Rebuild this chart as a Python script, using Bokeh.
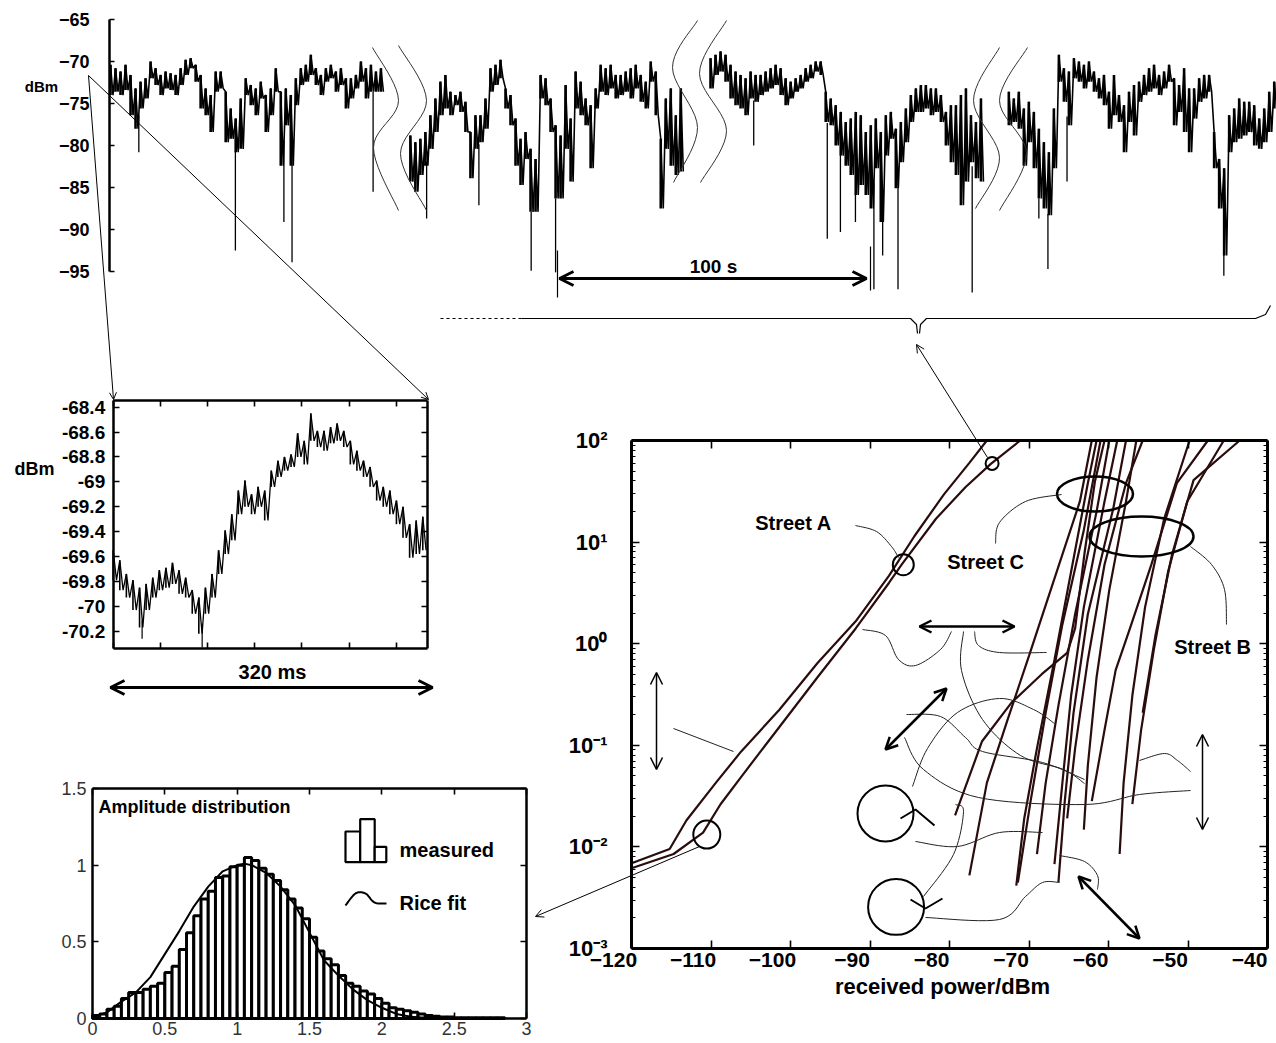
import numpy as np
from bokeh.plotting import figure
from bokeh.models import (Range1d, LinearAxis, LogAxis, LogScale, FixedTicker,
                          Arrow, OpenHead, Label)
from bokeh.core.properties import value
from bokeh.embed import file_html
from bokeh.resources import INLINE

FONT = "Liberation Sans"
CDF_COLOR = "#2a0c0c"

# ---------------- DATA ----------------
# Top panel: received level (dBm), upper / lower envelope of the fast-fading trace,
# one value every 1.6 s, four recorded segments (start time in s)
SEG_START = [0.0, 95.8, 191.7, 287.0]
SEG_STEP = 1.6
SEG1_HI = [-70.4,-70.8,-71.2,-70.4,-71.6,-73.2,-72.4,-72.0,-70.0,-70.8,-71.6,-71.2,-71.4,-71.6,-70.8,-69.8,-69.6,-70.4,-71.6,-73.2,-74.0,-71.2,-71.2,-73.6,-75.6,-76.8,-74.4,-72.0,-72.8,-73.2,-72.4,-74.0,-73.2,-70.8,-73.6,-73.2,-74.0,-72.0,-70.8,-70.4,-69.2,-70.8,-71.6,-70.8,-70.4,-71.2,-70.8,-72.0,-72.0,-71.6,-70.0,-70.8,-70.4,-71.2,-70.8]
SEG1_LO = [-74.0,-73.6,-74.0,-73.4,-76.4,-78.0,-75.6,-74.4,-72.0,-72.8,-74.0,-73.2,-73.4,-74.0,-72.8,-71.6,-70.8,-72.4,-75.6,-76.4,-78.4,-73.6,-73.2,-79.6,-79.2,-80.8,-80.4,-74.0,-75.2,-76.4,-74.4,-78.4,-76.4,-73.6,-82.4,-77.6,-82.4,-75.2,-72.8,-72.4,-71.6,-72.8,-74.0,-72.4,-72.0,-73.6,-72.8,-75.6,-74.4,-73.2,-72.4,-74.4,-73.6,-73.6,-73.6]
SEG2_HI = [-78.8,-79.6,-79.2,-78.4,-76.4,-74.4,-72.4,-71.6,-73.6,-74.0,-73.6,-74.8,-78.4,-76.4,-76.4,-74.4,-70.8,-70.4,-69.8,-73.2,-74.0,-76.8,-79.2,-78.4,-80.4,-81.6,-71.6,-72.0,-74.4,-77.6,-78.8,-72.8,-76.8,-71.2,-72.4,-74.4,-75.2,-73.2,-70.4,-70.8,-70.4,-71.6,-71.6,-71.2,-70.8,-70.4,-71.6,-72.4,-70.0,-71.2,-79.2,-74.4,-73.2,-76.4,-73.2]
SEG2_LO = [-84.3,-85.5,-83.5,-82.4,-80.4,-78.4,-76.4,-75.6,-76.4,-75.2,-76.0,-78.4,-83.9,-80.4,-79.6,-78.0,-73.6,-72.8,-72.0,-75.6,-77.6,-82.4,-84.7,-81.6,-87.9,-87.9,-74.4,-75.2,-78.4,-86.3,-86.3,-80.4,-84.3,-75.6,-76.4,-77.6,-82.7,-75.6,-73.6,-74.0,-73.2,-74.4,-74.0,-73.6,-74.4,-73.2,-74.8,-75.6,-72.4,-76.4,-87.5,-80.4,-82.4,-83.5,-83.1]
SEG3_HI = [-69.6,-69.2,-68.8,-69.2,-70.4,-71.2,-71.6,-72.0,-71.2,-71.6,-71.6,-71.2,-70.8,-70.4,-70.8,-72.0,-72.4,-72.0,-71.6,-70.8,-70.4,-70.0,-70.0,-73.6,-74.4,-75.2,-76.0,-77.2,-76.8,-76.0,-76.4,-78.4,-77.6,-76.8,-78.4,-76.4,-76.0,-78.0,-77.2,-75.6,-74.0,-73.2,-72.8,-72.8,-73.2,-73.2,-74.0,-76.0,-75.2,-75.2,-74.0,-73.2,-76.4,-77.2,-74.4]
SEG3_LO = [-73.2,-71.6,-71.2,-72.4,-74.4,-75.2,-75.6,-76.4,-74.4,-74.8,-74.0,-73.6,-73.2,-72.8,-74.0,-75.2,-74.4,-73.6,-73.2,-72.4,-72.0,-71.2,-71.6,-77.2,-77.6,-80.0,-81.2,-82.4,-83.5,-85.9,-84.7,-85.9,-87.5,-82.7,-89.1,-81.2,-79.2,-85.1,-82.0,-79.6,-77.2,-76.0,-76.0,-75.6,-76.4,-76.0,-77.2,-80.0,-82.0,-83.5,-87.1,-84.3,-82.0,-83.9,-84.3]
SEG4_HI = [-73.6,-74.4,-73.6,-75.6,-74.8,-76.0,-78.0,-79.6,-80.8,-75.6,-69.2,-70.8,-71.2,-69.6,-70.0,-70.4,-70.0,-71.2,-72.0,-71.6,-73.6,-71.6,-74.0,-75.2,-73.6,-72.8,-72.4,-71.6,-70.8,-70.4,-71.6,-71.2,-70.4,-72.0,-72.8,-70.8,-73.2,-73.2,-72.0,-71.6,-71.6,-78.4,-81.6,-82.7,-76.4,-75.6,-74.4,-74.8,-74.8,-75.2,-76.8,-75.6,-73.6,-72.4]
SEG4_LO = [-77.6,-77.2,-78.0,-82.4,-79.6,-82.7,-86.3,-87.5,-88.3,-82.7,-72.4,-74.8,-77.6,-72.0,-72.4,-73.2,-72.4,-73.6,-74.4,-75.2,-78.0,-76.4,-77.2,-80.8,-77.2,-78.8,-74.8,-74.0,-73.6,-73.2,-74.0,-73.2,-72.4,-77.6,-76.0,-78.4,-80.8,-76.8,-74.8,-74.4,-73.6,-82.7,-87.5,-93.1,-80.8,-79.6,-79.2,-78.8,-78.4,-80.0,-80.4,-79.6,-78.4,-75.6]
# deep fades (time s, level dBm)
FADE_T = [9.05, 39.9, 55.4, 58.0, 83.9, 101.0, 117.7, 134.4, 142.2, 205.5, 229.0, 233.2, 238.0, 243.9, 246.7, 251.6, 275.3, 296.6, 299.5, 305.6, 355.7]
FADE_DB = [-80.8, -92.5, -89.1, -93.9, -85.5, -88.7, -87.1, -94.9, -95.1, -80.0, -91.1, -90.3, -89.1, -97.1, -93.1, -97.1, -97.5, -88.7, -94.7, -84.3, -95.5]
TOP_YTICKS = [-65, -70, -75, -80, -85, -90, -95]

# Inset: 320 ms zoom, envelope every 6.7 ms
INSET_STEP = 6.7
INSET_HI = [-69.55,-69.63,-69.74,-69.79,-69.85,-69.82,-69.77,-69.71,-69.69,-69.65,-69.71,-69.77,-69.87,-69.93,-69.85,-69.74,-69.55,-69.39,-69.26,-69.07,-68.99,-69.10,-69.04,-69.07,-68.91,-68.83,-68.80,-68.78,-68.61,-68.67,-68.45,-68.59,-68.59,-68.56,-68.53,-68.59,-68.67,-68.75,-68.83,-68.88,-68.99,-69.04,-69.07,-69.15,-69.20,-69.34,-69.31,-69.28]
INSET_LO = [-69.79,-69.87,-69.93,-70.03,-70.17,-70.03,-69.93,-69.87,-69.85,-69.82,-69.90,-69.93,-70.06,-70.22,-70.06,-69.93,-69.74,-69.58,-69.47,-69.26,-69.20,-69.26,-69.20,-69.31,-69.04,-68.96,-68.91,-68.88,-68.80,-68.86,-68.67,-68.72,-68.75,-68.69,-68.67,-68.72,-68.86,-68.91,-68.96,-69.04,-69.15,-69.20,-69.26,-69.34,-69.45,-69.61,-69.58,-69.55]
INSET_FADE_T = [29.4, 90.5]
INSET_FADE_DB = [-70.26, -70.33]
INSET_YTICKS = [-68.4, -68.6, -68.8, -69.0, -69.2, -69.4, -69.6, -69.8, -70.0, -70.2]
INSET_YLABELS = ["-68.4", "-68.6", "-68.8", "-69", "-69.2", "-69.4", "-69.6", "-69.8", "-70", "-70.2"]
INSET_XTICKS = [0, 48, 96, 144, 192, 240, 288]
INSET_XLIM = (0, 320)
INSET_YLIM = (-70.34, -68.35)

# Amplitude distribution (bins of 0.05 starting at 0)
HIST_BIN = 0.05
HIST_H = [0.02,0.03,0.06,0.08,0.13,0.17,0.17,0.19,0.21,0.23,
          0.30,0.34,0.45,0.56,0.67,0.78,0.83,0.92,0.93,0.99,
          1.00,1.05,1.03,0.98,0.94,0.90,0.84,0.78,0.72,0.65,
          0.53,0.44,0.39,0.35,0.28,0.23,0.21,0.18,0.16,0.13,
          0.10,0.07,0.06,0.05,0.04,0.03,0.02,0.015,0.01,0.01,
          0.005,0.005,0.005,0.005,0.005,0.005,0.005]
RICE_X = [0.0,0.1,0.2,0.3,0.4,0.5,0.6,0.7,0.8,0.9,1.0,1.05,1.1,1.2,1.3,1.4,1.5,1.6,1.7,1.8,1.9,2.0,2.1,2.2,2.3,2.4,2.5,2.8]
RICE_Y = [0.01,0.04,0.11,0.17,0.27,0.42,0.57,0.73,0.86,0.96,1.0,1.01,1.0,0.95,0.86,0.74,0.56,0.38,0.28,0.19,0.12,0.07,0.03,0.012,0.005,0.002,0.0,0.0]
HIST_XTICKS = [0, 0.5, 1, 1.5, 2, 2.5, 3]
HIST_YTICKS = [0, 0.5, 1, 1.5]

# CDF panel: received power (dBm) vs log10(probability %)
A_CURVES = [
    ([-120.0,-115.2,-113.1,-109.4,-106.2,-101.4,-96.6,-91.8,-87.6,-84.4,-80.7,-77.5,-75.3],
     [-2.16,-2.02,-1.74,-1.37,-1.06,-0.65,-0.19,0.22,0.67,1.06,1.47,1.78,2.0]),
    ([-120.0,-114.7,-111.0,-108.8,-106.2,-101.4,-96.6,-91.8,-87.6,-86.0,-81.7,-78.0,-74.8,-71.1],
     [-2.21,-2.07,-1.86,-1.58,-1.31,-0.82,-0.33,0.15,0.60,0.78,1.23,1.54,1.77,2.0]),
]
C_CURVES = [
    ([-79.3,-75.9,-72.2,-68.4,-65.2,-64.2,-63.0,-61.7,-60.5], [-1.69,-0.96,-0.58,-0.30,-0.09,0.15,0.9,1.6,2.0]),
    ([-77.5,-75.3,-72.7,-70.0,-66.8,-63.6,-62.1], [-2.28,-1.37,-0.75,-0.12,0.64,1.40,2.0]),
    ([-71.6,-70.6,-69.0,-66.8,-64.7,-62.6,-61.5], [-2.38,-1.72,-1.03,-0.16,0.71,1.58,2.0]),
    ([-71.4,-69.8,-67.9,-65.8,-63.1,-61.0], [-2.35,-1.55,-0.68,0.19,1.12,2.0]),
    ([-69.0,-67.9,-66.3,-64.2,-61.5,-59.9], [-2.07,-1.37,-0.61,0.29,1.30,2.0]),
    ([-66.8,-65.8,-64.7,-63.1,-60.5,-58.9], [-2.17,-1.37,-0.51,0.36,1.40,2.0]),
    ([-66.3,-65.5,-64.4,-62.6,-59.4,-57.8], [-2.35,-1.55,-0.68,0.29,1.33,2.0]),
    ([-63.1,-62.6,-61.5,-59.9,-57.8,-56.5], [-1.83,-1.20,-0.33,0.53,1.40,2.0]),
    ([-65.2,-64.2,-62.6,-60.5,-57.8,-55.7], [-1.72,-1.03,-0.16,0.78,1.58,2.0]),
]
B_CURVES = [
    ([-58.6,-58.1,-57.0,-55.4,-53.0,-49.8], [-2.07,-1.37,-0.51,0.36,1.23,2.0]),
    ([-62.1,-60.5,-59.1,-57.3,-54.6,-51.4,-47.5], [-1.55,-0.85,-0.26,0.15,0.78,1.58,2.0]),
    ([-57.0,-55.9,-54.3,-52.5,-50.1,-45.5], [-1.58,-0.85,-0.06,0.71,1.40,2.0]),
    ([-55.7,-54.1,-52.0,-49.3,-43.5], [-0.68,0.08,0.88,1.61,2.0]),
]
CDF_XTICKS = [-120, -110, -100, -90, -80, -70, -60, -50, -40]
CDF_YTICKS = [1e-3, 1e-2, 1e-1, 1.0, 10.0, 100.0]
CDF_YLABELS = ["10\u207b\u00b3", "10\u207b\u00b2", "10\u207b\u00b9", "10\u2070", "10\u00b9", "10\u00b2"]
CDF_YMINOR = [k * 10.0 ** e for e in range(-3, 2) for k in range(2, 10)]

# ---------------- LAYOUT (reference pixel geometry) ----------------
W, H = 1276, 1043
PX0, PX1 = 0, 1276
PY_BOT, PY_TOP = 1043, 0


def lin_range(v0, p0, v1, p1, a, b):
    k = (v1 - v0) / (p1 - p0)
    return Range1d(start=v0 + (a - p0) * k, end=v0 + (b - p0) * k)


def log_range(v0, p0, v1, p1, a, b):
    l0, l1 = np.log10(v0), np.log10(v1)
    k = (l1 - l0) / (p1 - p0)
    return Range1d(start=10 ** (l0 + (a - p0) * k), end=10 ** (l0 + (b - p0) * k))


p = figure(width=W, height=H, x_range=Range1d(PX0, PX1), y_range=Range1d(PY_BOT, PY_TOP),
           x_axis_type=None, y_axis_type=None, toolbar_location=None, output_backend="svg",
           min_border=0, outline_line_color=None, background_fill_color="white",
           border_fill_color="white")
p.title.visible = False

CDF_X0, CDF_X1, CDF_Y0, CDF_Y1 = 631, 1267, 948, 440
p.extra_x_ranges = {
    "tx": lin_range(0, 110, 100, 423, PX0, PX1),
    "ix": lin_range(0, 112.7, 320, 427.3, PX0, PX1),
    "hx": lin_range(0, 92, 3, 526, PX0, PX1),
    "cx": lin_range(-120, CDF_X0, -40, CDF_X1, PX0, PX1),
    "cxl": lin_range(-120, CDF_X0 - 18, -40, CDF_X1 - 18, PX0, PX1),
}
p.extra_y_ranges = {
    "ty": lin_range(-65, 19, -95, 271, PY_BOT, PY_TOP),
    "iy": lin_range(-68.4, 406.7, -70.2, 630.7, PY_BOT, PY_TOP),
    "hy": lin_range(0, 1018, 1.5, 788, PY_BOT, PY_TOP),
    "cy": log_range(1e-3, CDF_Y0, 100.0, CDF_Y1, PY_BOT, PY_TOP),
}
p.extra_y_scales = {"cy": LogScale()}


def add_axis(side, xr, yr, loc, ticks, bounds, minor=(), labels=True, overrides=None,
             size="17px", bold=True, color="black", standoff=4, tick_in=6, minor_in=0,
             lw=2.5, log=False, line=True, ticks_on=True):
    cls = LogAxis if log else LinearAxis
    ax = cls(x_range_name=xr, y_range_name=yr, fixed_location=loc,
             ticker=FixedTicker(ticks=list(ticks), minor_ticks=list(minor)),
             bounds=bounds,
             major_tick_in=tick_in if ticks_on else 0, major_tick_out=0,
             minor_tick_in=minor_in if ticks_on else 0, minor_tick_out=0,
             major_tick_line_width=1.6, minor_tick_line_width=1.2,
             major_tick_line_color="black" if ticks_on else None,
             minor_tick_line_color="black" if ticks_on else None,
             axis_line_width=lw, axis_line_color="black" if line else None,
             major_label_standoff=standoff,
             major_label_text_font=FONT, major_label_text_font_size=size,
             major_label_text_font_style="bold" if bold else "normal",
             major_label_text_color=color if labels else None)
    if overrides:
        ax.major_label_overrides = overrides
    p.add_layout(ax, side)
    return ax


# ---------------- TOP TRACE ----------------
def zigzag(t0, step, hi, lo):
    xs, ys = [], []
    for i, (h, l) in enumerate(zip(hi, lo)):
        t = t0 + i * step
        xs += [t, t + step / 2.0]
        ys += [h, l]
    return xs, ys


segs = [(SEG1_HI, SEG1_LO), (SEG2_HI, SEG2_LO), (SEG3_HI, SEG3_LO), (SEG4_HI, SEG4_LO)]
seg_times = []
for t0, (hi, lo) in zip(SEG_START, segs):
    xs, ys = zigzag(t0, SEG_STEP, hi, lo)
    ts = [t0 + SEG_STEP * i for i in range(len(lo))]
    # dense band: a vertical stroke per sample plus the zig-zag between envelope values
    p.segment(x0=ts, y0=hi, x1=ts, y1=lo, x_range_name="tx", y_range_name="ty",
              line_color="black", line_width=2.6)
    p.line(xs, ys, x_range_name="tx", y_range_name="ty", line_color="black", line_width=1.6)
    seg_times.append((t0, ts[-1], ts, lo))

f_base = []
for t in FADE_T:
    base = -73.0
    for (a, b, ts, lo) in seg_times:
        if a <= t <= b + SEG_STEP:
            base = float(np.interp(t, ts, lo))
    f_base.append(base)
p.segment(x0=FADE_T, y0=f_base, x1=FADE_T, y1=FADE_DB, x_range_name="tx", y_range_name="ty",
          line_color="black", line_width=1.3)

add_axis("left", "tx", "ty", (109 - 110) / 3.13, TOP_YTICKS, (-95, -65), size="18px",
         standoff=20, tick_in=5, lw=2.5)

# ---------------- INSET ----------------
its = [i * INSET_STEP for i in range(len(INSET_LO))]
xs, ys = zigzag(0.0, INSET_STEP, INSET_HI, INSET_LO)
p.segment(x0=its, y0=INSET_HI, x1=its, y1=INSET_LO, x_range_name="ix", y_range_name="iy",
          line_color="black", line_width=1.6)
p.line(xs, ys, x_range_name="ix", y_range_name="iy", line_color="black", line_width=1.3)
ib = [float(np.interp(t, its, INSET_LO)) for t in INSET_FADE_T]
p.segment(x0=INSET_FADE_T, y0=ib, x1=INSET_FADE_T, y1=INSET_FADE_DB, x_range_name="ix",
          y_range_name="iy", line_color="black", line_width=1.2)

inset_over = {t: s for t, s in zip(INSET_YTICKS, INSET_YLABELS)}
add_axis("left", "ix", "iy", INSET_XLIM[0], INSET_YTICKS, INSET_YLIM, overrides=inset_over,
         size="19px", standoff=8, tick_in=6)
add_axis("right", "ix", "iy", INSET_XLIM[1], INSET_YTICKS, INSET_YLIM, labels=False, tick_in=6)
add_axis("below", "ix", "iy", INSET_YLIM[0], INSET_XTICKS, INSET_XLIM, labels=False, tick_in=6)
add_axis("above", "ix", "iy", INSET_YLIM[1], INSET_XTICKS, INSET_XLIM, labels=False, tick_in=6)

# ---------------- HISTOGRAM ----------------
left = [i * HIST_BIN for i in range(len(HIST_H))]
right = [(i + 1) * HIST_BIN for i in range(len(HIST_H))]
p.quad(left=left, right=right, bottom=0, top=HIST_H, x_range_name="hx", y_range_name="hy",
       fill_color="white", line_color="black", line_width=3)
p.line(RICE_X, RICE_Y, x_range_name="hx", y_range_name="hy", line_color="black", line_width=2)

add_axis("left", "hx", "hy", 0, HIST_YTICKS, (0, 1.5), size="18px", bold=False, color="#333333",
         standoff=6, tick_in=6, lw=2.5)
add_axis("right", "hx", "hy", 3, HIST_YTICKS, (0, 1.5), labels=False, tick_in=6, lw=2.5)
add_axis("below", "hx", "hy", 0, HIST_XTICKS, (0, 3), size="18px", bold=False, color="#333333",
         standoff=3, tick_in=6, lw=2.5)
add_axis("above", "hx", "hy", 1.5, HIST_XTICKS, (0, 3), labels=False, tick_in=6, lw=2.5)

# ---------------- CDF ----------------
for db, lg in A_CURVES + C_CURVES + B_CURVES:
    p.line(db, [10.0 ** v for v in lg], x_range_name="cx", y_range_name="cy",
           line_color=CDF_COLOR, line_width=2.2)

cdf_over = {t: s for t, s in zip(CDF_YTICKS, CDF_YLABELS)}
add_axis("left", "cx", "cy", -120, CDF_YTICKS, (1e-3, 100.0), minor=CDF_YMINOR, overrides=cdf_over,
         size="22px", standoff=24, tick_in=8, minor_in=4, lw=3, log=True)
add_axis("right", "cx", "cy", -40, CDF_YTICKS, (1e-3, 100.0), minor=CDF_YMINOR, labels=False,
         tick_in=8, minor_in=4, lw=3, log=True)
add_axis("below", "cx", "cy", 1e-3, CDF_XTICKS, (-120, -40), labels=False, tick_in=8, lw=3)
add_axis("below", "cxl", "cy", 1e-3, CDF_XTICKS, (-120, -40), size="21px", standoff=4,
         line=False, ticks_on=False)
add_axis("above", "cx", "cy", 100.0, CDF_XTICKS, (-120, -40), labels=False, tick_in=8, lw=3)

# ---------------- ANNOTATIONS (reference pixel coordinates) ----------------
def smooth(pts, n=10):
    P = np.array(pts, float)
    P = np.vstack([P[0], P, P[-1]])
    out = []
    for i in range(1, len(P) - 2):
        p0, p1, p2, p3 = P[i - 1], P[i], P[i + 1], P[i + 2]
        for s in np.linspace(0, 1, n, endpoint=False):
            out.append(0.5 * ((2 * p1) + (-p0 + p2) * s + (2 * p0 - 5 * p1 + 4 * p2 - p3) * s * s
                              + (-p0 + 3 * p1 - 3 * p2 + p3) * s ** 3))
    out.append(P[-2])
    return [q[0] for q in out], [q[1] for q in out]


def curve(pts, lw=1.0, color="#222222"):
    x, y = smooth(pts)
    p.line(x, y, line_color=color, line_width=lw)


def arrow(x0, y0, x1, y1, size=8, lw=1.0, double=False, head_lw=None):
    hl = head_lw if head_lw is not None else lw
    p.add_layout(Arrow(x_start=x0, y_start=y0, x_end=x1, y_end=y1, line_width=lw,
                       line_color="black",
                       start=OpenHead(size=size, line_width=hl) if double else None,
                       end=OpenHead(size=size, line_width=hl)))


def label(x, y, text, size, bold=True, align="center", color="black"):
    p.add_layout(Label(x=x, y=y, text=text, text_font=FONT, text_font_size=size,
                       text_font_style="bold" if bold else "normal", text_align=align,
                       text_baseline="middle", text_color=color))


# break marks in the top trace
for pts in [[(372, 47), (398, 100), (373, 147), (398, 210)], [(398, 45), (426, 100), (400, 153), (426, 210)],
            [(697, 20), (672, 67), (697, 127), (673, 182)], [(726, 20), (699, 73), (726, 130), (700, 182)],
            [(999, 47), (973, 100), (999, 157), (975, 208)], [(1027, 47), (999, 100), (1026, 153), (999, 210)]]:
    curve(pts, lw=1.0, color="#333333")

label(41, 86, "dBm", "15px")
# 100 s marker
p.segment(x0=[557, 870], y0=[250, 246], x1=[557, 870], y1=[297, 290], line_color="black", line_width=1.2)
arrow(559, 278, 866, 278, size=14, lw=3, double=True)
label(713, 266, "100 s", "19px")

# brace under the trace
p.line([440, 521], [318, 318], line_color="black", line_width=1.2, line_dash="3 3")
p.line([521, 910, 916, 917], [318, 318, 324, 333], line_color="black", line_width=1.2)
p.line([919, 920, 926, 1255, 1265, 1270], [333, 324, 318, 318, 314, 305], line_color="black", line_width=1.2)

# zoom lines to the inset
arrow(88, 75, 113, 399, size=7, lw=1)
arrow(88, 75, 428, 399, size=7, lw=1)
label(34, 468, "dBm", "18px")
arrow(110, 687, 432, 687, size=14, lw=3, double=True)
label(272, 671, "320 ms", "20px")

# histogram legend
label(98, 806, "Amplitude distribution", "18px", align="left")
p.quad(left=[345, 359.7, 374.2], right=[359.7, 374.2, 385.8], bottom=[861.6] * 3,
       top=[831, 818.7, 846.3], fill_color="white", line_color="black", line_width=2.2)
label(399, 849, "measured", "20px", align="left")
curve([(345, 905), (355, 893), (365, 893), (374, 902), (386, 903)], lw=2, color="black")
label(399, 902, "Rice fit", "20px", align="left")
arrow(699, 846, 535, 916, size=8, lw=1)

# CDF annotations
p.ellipse(x=[991.6, 902.8, 706.3, 885, 895.6], y=[462.9, 564.2, 834.1, 813, 906.4],
          width=[13, 21, 27, 56, 56], height=[13, 21, 28, 56, 56],
          fill_color=None, line_color="black", line_width=2)
p.ellipse(x=[1094.5, 1141], y=[493.6, 536], width=[76, 104], height=[35, 40],
          fill_color=None, line_color="black", line_width=2.5)
arrow(987, 457, 916, 344, size=8, lw=1)
label(793, 522, "Street A", "20px")
label(985, 561, "Street C", "20px")
label(1212, 646, "Street B", "20px")
curve([(855, 525), (876, 531), (891, 546), (898, 557)])
curve([(1061, 494), (1025, 501), (999, 522), (995, 543)])
curve([(1190, 546), (1211, 564), (1224, 589), (1226, 624)])
curve([(862, 629), (885, 635), (898, 659), (915, 665), (940, 649), (951, 631)])
curve([(974, 631), (978, 645), (999, 652), (1046, 652)])
curve([(963, 631), (961, 670), (982, 719), (1020, 755), (1063, 769), (1084, 783)])
curve([(906, 714), (940, 716), (965, 737), (982, 751), (1042, 762), (1084, 779)])
curve([(904, 737), (923, 769), (978, 797), (1084, 804), (1139, 794), (1190, 790)])
curve([(1139, 760), (1164, 753), (1177, 760), (1190, 771)])
curve([(912, 786), (927, 748), (957, 712), (999, 698), (1033, 709), (1054, 723)])
curve([(915, 841), (957, 846), (999, 832), (1042, 832)])
curve([(923, 896), (953, 854), (963, 811), (955, 804)])
curve([(925, 917), (999, 919), (1025, 896), (1042, 882), (1059, 882)])
curve([(1059, 855), (1084, 861), (1097, 875), (1097, 889)])
p.line([673, 733], [728, 751], line_color="#222222", line_width=1)
p.line([900, 915, 934], [818, 809, 825], line_color="black", line_width=2)
p.line([910, 925, 942], [899, 908, 898], line_color="black", line_width=2)
arrow(656, 672, 656, 769, size=12, lw=1.5, double=True)
arrow(919, 626, 1014, 626, size=12, lw=2.5, double=True)
arrow(885, 749, 946, 688, size=12, lw=2.5, double=True)
arrow(1078, 876, 1139, 938, size=12, lw=2.5, double=True)
arrow(1202, 734, 1202, 829, size=12, lw=1.5, double=True)
label(942, 986, "received power/dBm", "22px")

open("out.html", "w").write(file_html(p, INLINE))
